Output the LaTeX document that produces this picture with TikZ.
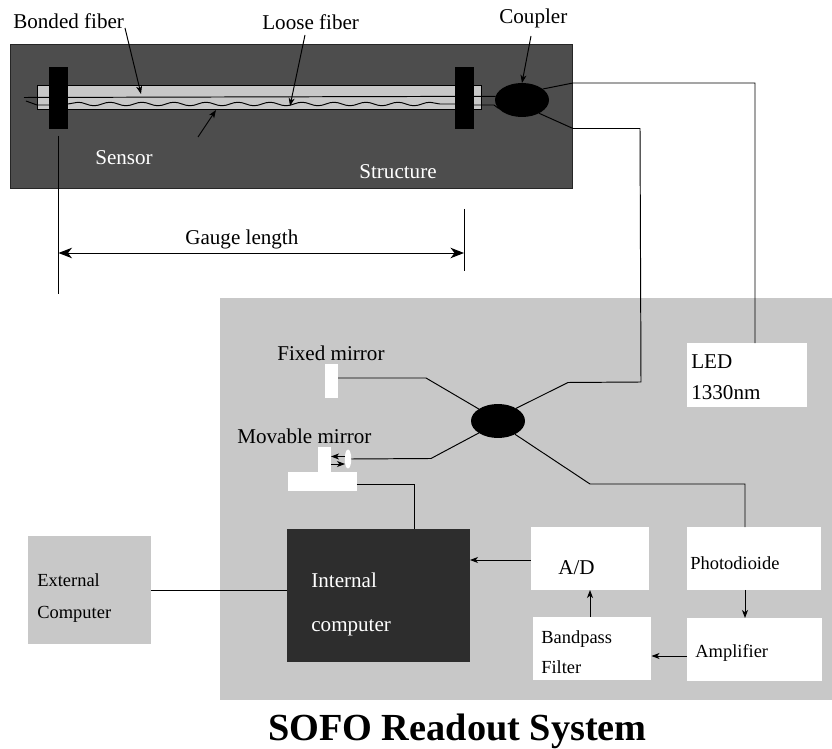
\documentclass[tikz,border=0pt]{standalone}
\usepackage{fontspec}
\setmainfont{Liberation Serif}
\usetikzlibrary{arrows.meta,shapes.geometric,decorations.pathmorphing}
\definecolor{cstruct}{RGB}{77,77,77}
\definecolor{cpanel}{RGB}{200,200,200}
\definecolor{cdark}{RGB}{45,45,45}
\tikzset{
  fbr/.style={black, line width=0.55pt},
  arr/.style={fbr, -{Stealth[length=1.6mm, width=1.2mm, inset=0.45mm]}},
  bigarr/.style={fbr, {Stealth[length=2.7mm, width=2.1mm, inset=0.8mm]}-{Stealth[length=2.7mm, width=2.1mm, inset=0.8mm]}},
  pbox/.style={fill=#1, inner sep=0pt, outer sep=0pt},
  lab/.style={font=\fontsize{12}{14}\selectfont, inner sep=0pt, anchor=west, align=left},
  slab/.style={font=\fontsize{10.5}{18}\selectfont, inner sep=0pt, anchor=west, align=left},
  wlab/.style={lab, text=white},
  clamp/.style={pbox=black, minimum width=0.38cm, minimum height=1.24cm},
  whbox/.style={pbox=white, minimum width=2.38cm, minimum height=1.26cm},
  wibox/.style={pbox=white, minimum width=2.7cm, minimum height=1.26cm},
  coup/.style={ellipse, fill=black, inner sep=0pt, outer sep=0pt, minimum width=1.08cm, minimum height=0.68cm},
  wave/.style={fbr, decorate, decoration={snake, segment length=0.64cm, amplitude=0.035cm}},
}
\begin{document}
\begin{tikzpicture}[x=0.02cm, y=-0.02cm]
  \useasboundingbox (0,0) rectangle (832,749);
  \node[pbox=cpanel, minimum width=12.24cm, minimum height=8.04cm] (panel) at (526,499) {};
  \node[pbox=cstruct, draw=black!85, line width=0.55pt, minimum width=11.26cm, minimum height=2.9cm] (structure) at (291.5,116.5) {};
  \node[pbox=cpanel, draw=black, line width=0.55pt, minimum width=8.89cm, minimum height=0.47cm] (tube) at (259.75,97.25) {};
  \node[clamp] (clampl) at (58.5,98) {};
  \node[clamp] (clampr) at (464.5,98) {};
  \node[coup] (coupler) at (522,100) {};
  \node[coup] (splitter) at (498,421) {};
  \coordinate (fibl) at (24,97.5);
  \coordinate (wavl) at (26,101);
  \coordinate (wavm) at (37,105);
  \coordinate (wavr) at (482,105);
  \coordinate (wavs) at (494,105);
  \draw[fbr] (fibl) -- (coupler.172);
  \draw[fbr] (wavl) -- (wavm) -- (clampl.east |- wavm);
  \draw[wave] (clampl.east |- 0,104) -- (clampr.west |- 0,104);
  \draw[fbr] (clampr.east |- wavr) -- (wavs) -- (coupler.200);

  \node[lab] (bonded) at (13,21) {Bonded fiber};
  \node[lab] (loose) at (262,22) {Loose fiber};
  \node[lab] (couplab) at (499,18) {Coupler};
  \node[wlab] (sensor) at (95,158) {Sensor};
  \node[wlab] (structlab) at (359,172) {Structure};
  \coordinate (bondA) at (125,28);
  \coordinate (bondB) at (141,94);
  \coordinate (looseA) at (305,35);
  \coordinate (looseB) at (290,106);
  \coordinate (coupA) at (531,36);
  \coordinate (sensA) at (198,137);
  \coordinate (sensB) at (216,110);
  \draw[arr] (bondA) -- (bondB);
  \draw[arr] (looseA) -- (looseB);
  \draw[arr] (coupA) -- (coupler.north);
  \draw[arr] (sensA) -- (sensB);

  \coordinate (gaugeLt) at (58.5,136);
  \coordinate (gaugeLb) at (58.5,294);
  \coordinate (gaugeRt) at (464,209);
  \coordinate (gaugeRb) at (464,271);
  \coordinate (gaugeA) at (58.5,253);
  \coordinate (gaugeB) at (464,253);
  \draw[fbr] (gaugeLt) -- (gaugeLb);
  \draw[fbr] (gaugeRt) -- (gaugeRb);
  \draw[bigarr] (gaugeA) -- (gaugeB);
  \node[lab] (gauge) at (185,239) {Gauge length};

  \node[whbox, minimum width=2.4cm, minimum height=1.28cm] (led) at (747,375) {};
  \node[lab] (ledtxt) at (691,377.5) {LED\\[3.5pt]1330nm};
  \coordinate (ledA) at (573,83);
  \coordinate (ledB) at (755,83);
  \draw[fbr] (coupler.28) -- (ledA) -- (ledB) -- (ledB |- led.north);
  \coordinate (linkA) at (573,128.5);
  \coordinate (linkB) at (640,128.5);
  \coordinate (linkC) at (641,382);
  \coordinate (linkD) at (568,382.5);
  \draw[fbr] (coupler.-38) -- (linkA) -- (linkB) -- (linkC) -- (linkD) -- (splitter.35);

  \node[pbox=white, minimum width=0.26cm, minimum height=0.68cm] (fixed) at (331.5,381) {};
  \node[lab] (fixedtxt) at (277,353) {Fixed mirror};
  \coordinate (fixA) at (426,378);
  \draw[fbr] (fixed.east |- fixA) -- (fixA) -- (splitter.148);

  \node[pbox=white, minimum width=0.26cm, minimum height=0.5cm] (movable) at (324.5,460) {};
  \node[pbox=white, minimum width=1.38cm, minimum height=0.38cm] (stage) at (322.5,481.5) {};
  \node[ellipse, fill=white, inner sep=0pt, outer sep=0pt, minimum width=0.13cm, minimum height=0.38cm] (lens) at (348,459) {};
  \node[lab] (movtxt) at (237,436) {Movable mirror};
  \coordinate (movA) at (431,458.5);
  \coordinate (lensT) at (345,456.5);
  \coordinate (lensB) at (345,464);
  \draw[fbr] (lens.east) -- (movA) -- (splitter.212);
  \draw[arr] (lensT) -- (movable.east |- lensT);
  \draw[arr] (movable.east |- lensB) -- (lensB);

  \node[pbox=cdark, minimum width=3.66cm, minimum height=2.66cm] (internal) at (378.5,595.5) {};
  \node[lab, text=white, font=\fontsize{12}{25}\selectfont] (inttxt) at (311,604) {Internal\\computer};
  \coordinate (stageA) at (414,484);
  \draw[fbr] (stage.east |- stageA) -- (stageA) -- (stageA |- internal.north);
  \node[pbox=cpanel, minimum width=2.46cm, minimum height=2.16cm] (external) at (89.5,590) {};
  \node[slab] (exttxt) at (37,598) {External\\Computer};
  \draw[fbr] (external.east) -- (internal.west |- external.east);

  \node[whbox] (adc) at (590,558.5) {};
  \node[lab] (adtxt) at (558,568) {A/D};
  \node[wibox] (photo) at (754,558.5) {};
  \node[slab] (phototxt) at (690,563) {Photodioide};
  \node[wibox] (amp) at (754.5,649.5) {};
  \node[slab] (amptxt) at (695,653) {Amplifier};
  \node[whbox] (band) at (592,648.5) {};
  \node[slab, font=\fontsize{10.5}{17}\selectfont] (bandtxt) at (541,652) {Bandpass\\Filter};
  \coordinate (splitA) at (590,484);
  \coordinate (splitB) at (745,484);
  \draw[fbr] (splitter.-38) -- (splitA) -- (splitB) -- (splitB |- photo.north);
  \draw[arr] (adc.west |- 0,560) -- (internal.east |- 0,560);
  \draw[arr] (splitB |- photo.south) -- (splitB |- amp.north);
  \draw[arr] (amp.west |- 0,656) -- (band.east |- 0,656);
  \draw[arr] (splitA |- band.north) -- (splitA |- adc.south);

  \node[font=\fontsize{21.8}{24}\selectfont\bfseries, inner sep=0pt] (title) at (457.5,731) {SOFO Readout System};
\end{tikzpicture}
\end{document}
